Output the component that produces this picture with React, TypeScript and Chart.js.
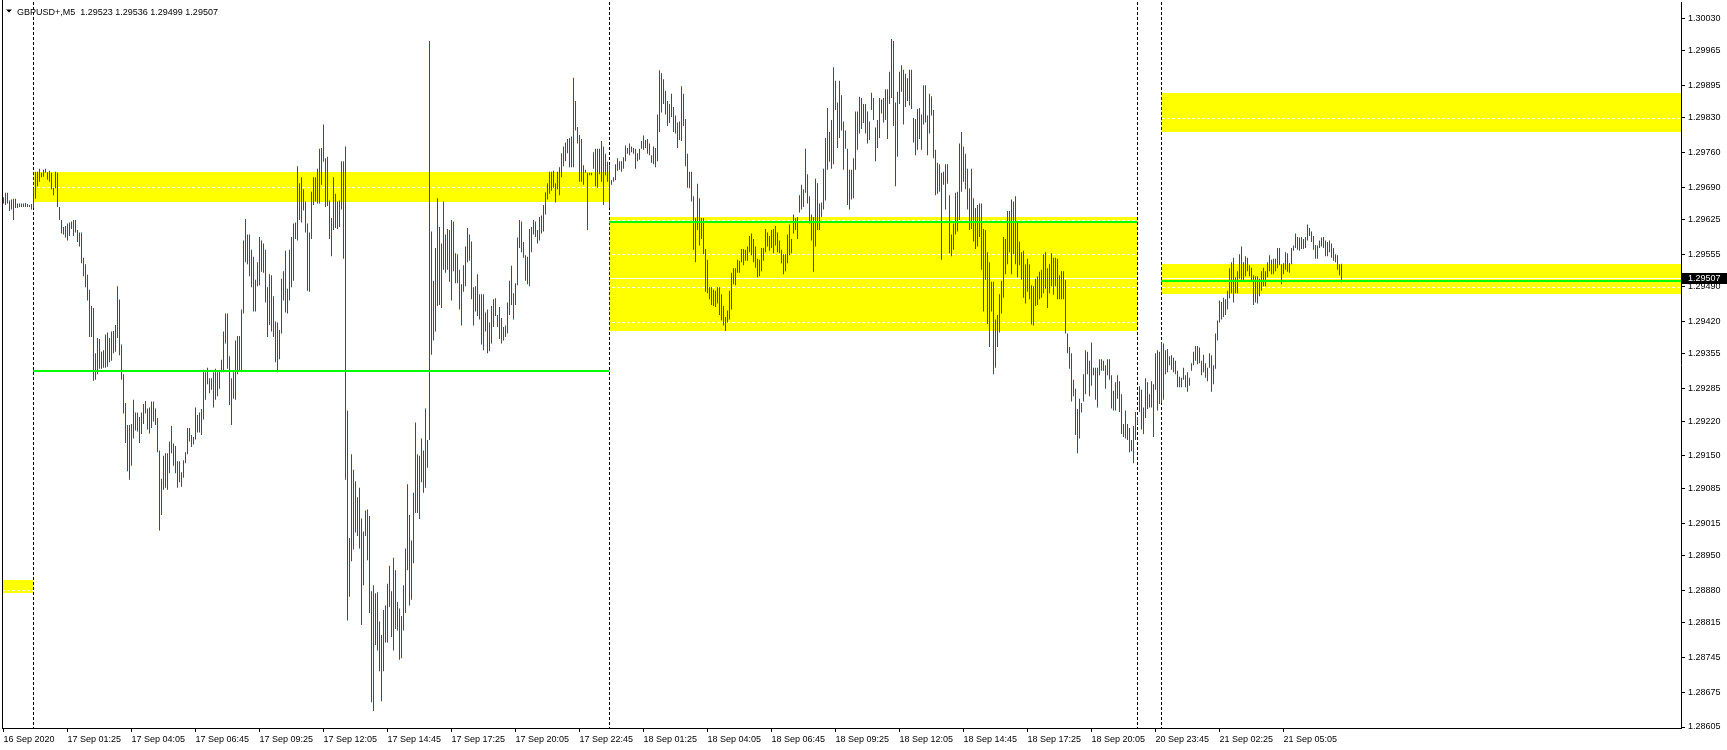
import React, { useEffect, useRef } from "react";
import { Chart, registerables } from "chart.js";

Chart.register(...registerables);

const symbolTitle = "GBPUSD+,M5  1.29523 1.29536 1.29499 1.29507";

// 16 Sep 22:45 .. 23:55
const hi16 = [1.29670,1.29679,1.29679,1.29663,1.29665,1.29667,1.29667,1.29657,1.29657,1.29657,1.29657,1.29658,1.29656,1.29654,1.29656];
const lo16 = [1.29657,1.29654,1.29657,1.29642,1.29645,1.29624,1.29648,1.29648,1.29650,1.29650,1.29650,1.29650,1.29650,1.29650,1.29645];

// 17 Sep
const hi17 = [
1.29688,1.29721,1.29721,1.29727,1.29719,1.29725,1.29727,1.29720,1.29723,1.29719,
1.29689,1.29721,1.29719,1.29650,1.29624,1.29610,1.29612,1.29617,1.29619,1.29621,
1.29624,1.29624,1.29604,1.29599,1.29599,1.29548,1.29535,1.29514,1.29484,1.29451,
1.29447,1.29356,1.29387,1.29385,1.29359,1.29362,1.29394,1.29398,1.29387,1.29400,
1.29401,1.29413,1.29491,1.29464,1.29374,1.29314,1.29256,1.29212,1.29212,1.29214,
1.29263,1.29237,1.29237,1.29228,1.29237,1.29254,1.29260,1.29245,1.29247,1.29259,
1.29259,1.29245,1.29226,1.29161,1.29104,1.29150,1.29155,1.29155,1.29179,1.29210,
1.29175,1.29170,1.29139,1.29139,1.29117,1.29141,1.29157,1.29206,1.29206,1.29192,
1.29188,1.29247,1.29232,1.29237,1.29244,1.29323,1.29318,1.29327,1.29306,1.29306,
1.29318,1.29325,1.29318,1.29321,1.29343,1.29400,1.29436,1.29436,1.29350,1.29306,
1.29318,1.29382,1.29391,1.29391,1.29444,1.29583,1.29626,1.29595,1.29595,1.29564,
1.29550,1.29504,1.29539,1.29590,1.29583,1.29577,1.29564,1.29489,1.29515,1.29513,
1.29471,1.29420,1.29418,1.29403,1.29506,1.29521,1.29562,1.29486,1.29564,1.29590,
1.29617,1.29619,1.29732,1.29698,1.29710,1.29686,1.29661,1.29617,1.29599,1.29681,
1.29710,1.29710,1.29727,1.29767,1.29769,1.29816,1.29748,1.29751,1.29663,1.29628,
1.29710,1.29677,1.29661,1.29663,1.29742,1.29742,1.29772,1.29241,1.28985,1.29153,
1.29122,1.29099,1.29067,1.29086,1.29024,1.28998,1.29040,1.29042,1.29029,1.28878,
1.28890,1.28874,1.28876,1.28817,1.28790,1.28840,1.28849,1.28893,1.28929,1.28878,
1.28945,1.28920,1.28856,1.28843,1.28828,1.28890,1.28964,1.29093,1.29031,1.28980,
1.29076,1.29217,1.29153,1.29150,1.29185,1.29161,1.29245,1.29182,1.29984,1.29601,
1.29502,1.29568,1.29668,1.29610,1.29577,1.29661,1.29595,1.29606,1.29604,1.29624,
1.29621,1.29557,1.29555,1.29524,1.29495,1.29533,1.29571,1.29608,1.29595,1.29581,
1.29489,1.29491,1.29515,1.29475,1.29475,1.29475,1.29438,1.29444,1.29418,1.29451,
1.29465,1.29467,1.29433,1.29449,1.29427,1.29409,1.29412,1.29458,1.29502,1.29532,
1.29477,1.29497,1.29589,1.29624,1.29621,1.29580,1.29553,1.29550,1.29606,1.29610,
1.29624,1.29621,1.29604,1.29630,1.29633,1.29654,1.29680,1.29698,1.29721,1.29721,
1.29723,1.29698,1.29721,1.29730,1.29758,1.29772,1.29780,1.29787,1.29789,1.29792,
1.29910,1.29863,1.29811,1.29795,1.29787,1.29734,1.29725,1.29719,1.29719,1.29719,
1.29760,1.29767,1.29767,1.29767,1.29783,1.29772,1.29757,1.29741];
const lo17 = [
1.29648,1.29667,1.29692,1.29701,1.29710,1.29711,1.29719,1.29705,1.29701,1.29686,
1.29674,1.29688,1.29650,1.29624,1.29597,1.29595,1.29589,1.29583,1.29592,1.29606,
1.29592,1.29599,1.29580,1.29571,1.29537,1.29511,1.29489,1.29462,1.29389,1.29389,
1.29301,1.29303,1.29314,1.29325,1.29325,1.29327,1.29327,1.29329,1.29338,1.29341,
1.29356,1.29359,1.29387,1.29352,1.29303,1.29235,1.29176,1.29119,1.29102,1.29130,
1.29185,1.29201,1.29199,1.29176,1.29194,1.29214,1.29235,1.29203,1.29195,1.29206,
1.29219,1.29212,1.29157,1.29000,1.29031,1.29082,1.29086,1.29082,1.29115,1.29155,
1.29130,1.29115,1.29086,1.29097,1.29088,1.29106,1.29135,1.29153,1.29179,1.29168,
1.29173,1.29183,1.29197,1.29197,1.29192,1.29223,1.29263,1.29294,1.29276,1.29283,
1.29247,1.29263,1.29270,1.29285,1.29318,1.29318,1.29376,1.29325,1.29252,1.29212,
1.29265,1.29263,1.29314,1.29321,1.29321,1.29436,1.29539,1.29535,1.29511,1.29489,
1.29440,1.29440,1.29491,1.29493,1.29520,1.29518,1.29458,1.29389,1.29413,1.29400,
1.29389,1.29338,1.29318,1.29344,1.29396,1.29462,1.29438,1.29436,1.29462,1.29489,
1.29502,1.29586,1.29583,1.29624,1.29619,1.29643,1.29599,1.29482,1.29480,1.29586,
1.29654,1.29661,1.29657,1.29657,1.29695,1.29741,1.29650,1.29652,1.29586,1.29551,
1.29604,1.29608,1.29606,1.29610,1.29645,1.29546,1.29102,1.28819,1.28867,1.28938,
1.28962,1.28996,1.28989,1.28964,1.28810,1.28890,1.28989,1.28940,1.28834,1.28655,
1.28637,1.28770,1.28759,1.28717,1.28657,1.28717,1.28775,1.28775,1.28846,1.28786,
1.28759,1.28802,1.28799,1.28740,1.28743,1.28799,1.28834,1.28920,1.28849,1.28861,
1.28934,1.29035,1.29035,1.29023,1.29097,1.29076,1.29086,1.29126,1.29182,1.29353,
1.29382,1.29400,1.29451,1.29453,1.29447,1.29524,1.29518,1.29524,1.29500,1.29462,
1.29521,1.29497,1.29497,1.29444,1.29412,1.29480,1.29491,1.29539,1.29542,1.29465,
1.29412,1.29440,1.29431,1.29424,1.29374,1.29362,1.29400,1.29356,1.29360,1.29376,
1.29409,1.29431,1.29409,1.29385,1.29376,1.29382,1.29389,1.29396,1.29433,1.29453,
1.29424,1.29453,1.29493,1.29568,1.29559,1.29548,1.29502,1.29495,1.29491,1.29559,
1.29595,1.29590,1.29577,1.29583,1.29597,1.29601,1.29635,1.29665,1.29677,1.29683,
1.29689,1.29659,1.29686,1.29674,1.29710,1.29732,1.29742,1.29758,1.29730,1.29730,
1.29730,1.29804,1.29778,1.29701,1.29701,1.29695,1.29719,1.29604,1.29714,1.29714,
1.29727,1.29692,1.29689,1.29716,1.29701,1.29654,1.29714,1.29701];

// 18 Sep
const hi18 = [
1.29734,1.29704,1.29710,1.29736,1.29748,1.29742,1.29742,1.29750,1.29774,1.29769,
1.29778,1.29772,1.29769,1.29767,1.29758,1.29767,1.29783,1.29794,1.29785,1.29787,
1.29778,1.29754,1.29772,1.29769,1.29836,1.29925,1.29919,1.29907,1.29884,1.29863,
1.29857,1.29878,1.29851,1.29834,1.29820,1.29822,1.29893,1.29878,1.29827,1.29757,
1.29721,1.29721,1.29672,1.29628,1.29697,1.29668,1.29628,1.29628,1.29566,1.29544,
1.29489,1.29489,1.29484,1.29482,1.29489,1.29489,1.29475,1.29451,1.29429,1.29442,
1.29482,1.29518,1.29527,1.29527,1.29544,1.29542,1.29566,1.29566,1.29564,1.29571,
1.29592,1.29597,1.29586,1.29571,1.29546,1.29544,1.29568,1.29568,1.29606,1.29599,
1.29592,1.29604,1.29606,1.29612,1.29599,1.29583,1.29564,1.29555,1.29555,1.29595,
1.29615,1.29586,1.29635,1.29628,1.29630,1.29674,1.29695,1.29686,1.29767,1.29716,
1.29672,1.29635,1.29630,1.29707,1.29698,1.29657,1.29659,1.29727,1.29789,1.29849,
1.29801,1.29825,1.29931,1.29904,1.29860,1.29904,1.29875,1.29822,1.29804,1.29767,
1.29725,1.29725,1.29748,1.29842,1.29842,1.29872,1.29869,1.29857,1.29857,1.29842,
1.29822,1.29880,1.29869,1.29810,1.29825,1.29869,1.29866,1.29869,1.29887,1.29887,
1.29922,1.29988,1.29984,1.29860,1.29882,1.29922,1.29935,1.29926,1.29918,1.29909,
1.29926,1.29926,1.29829,1.29827,1.29847,1.29849,1.29836,1.29895,1.29895,1.29834,
1.29878,1.29873,1.29845,1.29765,1.29739,1.29736,1.29719,1.29721,1.29736,1.29736,
1.29674,1.29595,1.29617,1.29679,1.29681,1.29778,1.29801,1.29772,1.29757,1.29727,
1.29688,1.29727,1.29668,1.29648,1.29654,1.29657,1.29657,1.29606,1.29604,1.29559,
1.29539,1.29500,1.29500,1.29424,1.29433,1.29475,1.29502,1.29590,1.29586,1.29642,
1.29642,1.29665,1.29661,1.29672,1.29619,1.29581,1.29559,1.29562,1.29535,1.29546,
1.29535,1.29493,1.29491,1.29506,1.29511,1.29520,1.29524,1.29555,1.29559,1.29527,
1.29535,1.29557,1.29548,1.29548,1.29546,1.29513,1.29521,1.29521,1.29504,1.29396,
1.29369,1.29356,1.29303,1.29285,1.29244,1.29265,1.29256,1.29314,1.29362,1.29359,
1.29341,1.29378,1.29327,1.29327,1.29327,1.29344,1.29344,1.29341,1.29332,1.29344,
1.29344,1.29312,1.29281,1.29298,1.29312,1.29300,1.29274,1.29214,1.29241,1.29214,
1.29206,1.29182,1.29210,1.29238];
const lo18 = [
1.29648,1.29695,1.29701,1.29704,1.29723,1.29725,1.29721,1.29727,1.29742,1.29757,
1.29754,1.29760,1.29757,1.29727,1.29742,1.29745,1.29767,1.29765,1.29769,1.29757,
1.29754,1.29739,1.29736,1.29730,1.29742,1.29801,1.29840,1.29857,1.29836,1.29813,
1.29819,1.29831,1.29801,1.29798,1.29769,1.29785,1.29783,1.29813,1.29732,1.29689,
1.29688,1.29661,1.29564,1.29539,1.29604,1.29573,1.29586,1.29555,1.29480,1.29477,
1.29465,1.29453,1.29451,1.29449,1.29456,1.29433,1.29422,1.29412,1.29401,1.29418,
1.29424,1.29444,1.29495,1.29493,1.29518,1.29518,1.29539,1.29533,1.29542,1.29542,
1.29559,1.29553,1.29539,1.29528,1.29509,1.29511,1.29521,1.29542,1.29559,1.29571,
1.29562,1.29568,1.29557,1.29573,1.29559,1.29557,1.29537,1.29515,1.29521,1.29537,
1.29553,1.29557,1.29597,1.29604,1.29586,1.29639,1.29645,1.29650,1.29679,1.29657,
1.29617,1.29583,1.29520,1.29571,1.29604,1.29604,1.29630,1.29645,1.29663,1.29725,
1.29741,1.29727,1.29736,1.29845,1.29769,1.29789,1.29804,1.29725,1.29767,1.29654,
1.29645,1.29665,1.29668,1.29725,1.29765,1.29798,1.29807,1.29819,1.29798,1.29778,
1.29785,1.29845,1.29825,1.29742,1.29769,1.29789,1.29838,1.29820,1.29825,1.29787,
1.29857,1.29869,1.29813,1.29692,1.29751,1.29857,1.29882,1.29816,1.29851,1.29863,
1.29854,1.29847,1.29780,1.29754,1.29765,1.29787,1.29765,1.29816,1.29820,1.29754,
1.29798,1.29834,1.29748,1.29674,1.29677,1.29681,1.29544,1.29695,1.29645,1.29697,
1.29557,1.29551,1.29564,1.29595,1.29601,1.29624,1.29681,1.29701,1.29686,1.29645,
1.29604,1.29606,1.29581,1.29566,1.29571,1.29590,1.29524,1.29440,1.29504,1.29415,
1.29369,1.29440,1.29314,1.29327,1.29369,1.29398,1.29436,1.29468,1.29515,1.29535,
1.29559,1.29515,1.29555,1.29535,1.29509,1.29533,1.29504,1.29468,1.29456,1.29480,
1.29465,1.29414,1.29412,1.29451,1.29453,1.29465,1.29468,1.29477,1.29486,1.29447,
1.29477,1.29491,1.29474,1.29491,1.29465,1.29465,1.29465,1.29465,1.29396,1.29356,
1.29325,1.29259,1.29270,1.29192,1.29155,1.29185,1.29237,1.29259,1.29274,1.29314,
1.29270,1.29291,1.29312,1.29263,1.29247,1.29312,1.29321,1.29321,1.29285,1.29312,
1.29303,1.29245,1.29241,1.29241,1.29265,1.29238,1.29194,1.29188,1.29185,1.29182,
1.29157,1.29159,1.29135,1.29182];

// 20 Sep (Sunday open)
const hi20 = [1.29228,1.29290,1.29283,1.29247,1.29306,1.29298,1.29274,1.29300,1.29294,1.29356,1.29362,1.29359];
const lo20 = [1.29214,1.29238,1.29203,1.29194,1.29226,1.29244,1.29247,1.29247,1.29188,1.29283,1.29241,1.29254];

// 21 Sep
const hi21 = [
1.29378,1.29376,1.29362,1.29365,1.29350,1.29352,1.29347,1.29341,1.29321,1.29309,
1.29307,1.29327,1.29312,1.29318,1.29307,1.29336,1.29359,1.29371,1.29371,1.29368,
1.29341,1.29353,1.29336,1.29327,1.29356,1.29352,1.29332,1.29396,1.29422,1.29462,
1.29459,1.29468,1.29465,1.29482,1.29527,1.29539,1.29548,1.29509,1.29521,1.29555,
1.29571,1.29539,1.29551,1.29548,1.29533,1.29528,1.29513,1.29511,1.29511,1.29506,
1.29521,1.29528,1.29521,1.29539,1.29553,1.29544,1.29546,1.29546,1.29568,1.29568,
1.29535,1.29537,1.29559,1.29557,1.29537,1.29568,1.29573,1.29597,1.29590,1.29589,
1.29590,1.29586,1.29590,1.29615,1.29608,1.29601,1.29592,1.29574,1.29573,1.29583,
1.29589,1.29590,1.29583,1.29580,1.29583,1.29577,1.29568,1.29555,1.29553,1.29535,
1.29536];
const lo21 = [
1.29256,1.29263,1.29314,1.29318,1.29332,1.29323,1.29318,1.29314,1.29288,1.29288,
1.29288,1.29303,1.29288,1.29279,1.29291,1.29321,1.29332,1.29341,1.29334,1.29336,
1.29312,1.29318,1.29307,1.29300,1.29327,1.29279,1.29294,1.29325,1.29382,1.29418,
1.29424,1.29429,1.29433,1.29444,1.29467,1.29477,1.29458,1.29477,1.29477,1.29506,
1.29504,1.29502,1.29511,1.29521,1.29511,1.29500,1.29453,1.29458,1.29456,1.29471,
1.29482,1.29491,1.29491,1.29509,1.29521,1.29515,1.29515,1.29521,1.29527,1.29533,
1.29495,1.29515,1.29524,1.29520,1.29518,1.29535,1.29562,1.29568,1.29564,1.29562,
1.29566,1.29566,1.29568,1.29583,1.29592,1.29580,1.29564,1.29546,1.29546,1.29568,
1.29571,1.29568,1.29551,1.29551,1.29559,1.29548,1.29542,1.29539,1.29524,1.29513,
1.29499];

const timeLabels = [
  "16 Sep 2020", "17 Sep 01:25", "17 Sep 04:05", "17 Sep 06:45", "17 Sep 09:25",
  "17 Sep 12:05", "17 Sep 14:45", "17 Sep 17:25", "17 Sep 20:05", "17 Sep 22:45",
  "18 Sep 01:25", "18 Sep 04:05", "18 Sep 06:45", "18 Sep 09:25", "18 Sep 12:05",
  "18 Sep 14:45", "18 Sep 17:25", "18 Sep 20:05", "20 Sep 23:45", "21 Sep 02:25",
  "21 Sep 05:05",
];
const barsPerLabel = 32;

const priceTicks = [
  1.30030, 1.29965, 1.29895, 1.29830, 1.29760, 1.29690, 1.29625, 1.29555, 1.29490, 1.29420, 1.29355,
  1.29285, 1.29220, 1.29150, 1.29085, 1.29015, 1.28950, 1.28880, 1.28815, 1.28745, 1.28675, 1.28605,
];

// day starts (bar index)
const daySeparators = [15, 303, 567, 579];

// zones: bar index range + price range (null = chart edge)
const zoneFrom = [null, 15, 303, 579, 579];
const zoneTo = [15, 303, 567, null, null];
const zoneTop = [1.28900, 1.29720, 1.29630, 1.29879, 1.29536];
const zoneBottom = [1.28874, 1.29661, 1.29401, 1.29800, 1.29475];

// green horizontal levels
const levelFrom = [15, 303, 579];
const levelTo = [303, 567, null];
const levelPrice = [1.29321, 1.29620, 1.29501];

const bidPrice = 1.29507;

const X_MIN = -0.75;
const X_MAX = 838.75;
const Y_MIN = 1.28603;
const Y_MAX = 1.300622;

const FONT = "'Liberation Sans', Arial, sans-serif";
const BAR_RED = "#ee0000";

export default function App() {
  const canvasRef = useRef<HTMLCanvasElement | null>(null);

  useEffect(() => {
    const canvas = canvasRef.current;
    if (!canvas) return;
    const highs = [...hi16, ...hi17, ...hi18, ...hi20, ...hi21];
    const lows = [...lo16, ...lo17, ...lo18, ...lo20, ...lo21];
    const barData = highs.map((h, i) => ({ x: i, y: [lows[i], h] }));

    const overlay = {
      id: "mt4overlay",
      beforeDatasetsDraw(chart: any) {
        const { ctx, chartArea: a, scales } = chart;
        const xs = scales.x;
        const ys = scales.y;
        const px = (i: number) => Math.floor(xs.getPixelForValue(i));
        ctx.save();
        ctx.beginPath();
        ctx.rect(a.left, a.top, a.right - a.left, a.bottom - a.top);
        ctx.clip();
        const rects = zoneTop.map((t, k) => {
          const l = zoneFrom[k] == null ? a.left : px(zoneFrom[k] as number);
          const r = zoneTo[k] == null ? a.right : px(zoneTo[k] as number);
          const tt = Math.round(ys.getPixelForValue(t));
          const bb = Math.round(ys.getPixelForValue(zoneBottom[k]));
          return { l, r, t: tt, b: bb };
        });
        ctx.fillStyle = "#ffff00";
        rects.forEach((r) => ctx.fillRect(r.l, r.t, r.r - r.l, r.b - r.t));
        // white dotted grid (only visible on yellow)
        ctx.strokeStyle = "#ffffff";
        ctx.lineWidth = 1;
        ctx.setLineDash([3, 2]);
        priceTicks.forEach((v) => {
          const yy = Math.round(ys.getPixelForValue(v)) + 0.5;
          ctx.beginPath();
          ctx.moveTo(a.left, yy);
          ctx.lineTo(a.right, yy);
          ctx.stroke();
        });
        // bid line
        ctx.setLineDash([]);
        const by = Math.round(ys.getPixelForValue(bidPrice)) + 0.5;
        ctx.beginPath();
        ctx.moveTo(a.left, by);
        ctx.lineTo(a.right, by);
        ctx.stroke();
        // period separators
        daySeparators.forEach((idx) => {
          const sx = px(idx) + 0.5;
          ctx.setLineDash([3, 2]);
          ctx.strokeStyle = "#000000";
          ctx.beginPath();
          ctx.moveTo(sx, a.top);
          ctx.lineTo(sx, a.bottom);
          ctx.stroke();
          rects.forEach((r) => {
            if (sx >= r.l && sx < r.r) {
              ctx.save();
              ctx.beginPath();
              ctx.rect(r.l, r.t, r.r - r.l, r.b - r.t);
              ctx.clip();
              ctx.strokeStyle = "#0000ff";
              ctx.beginPath();
              ctx.moveTo(sx, a.top);
              ctx.lineTo(sx, a.bottom);
              ctx.stroke();
              ctx.restore();
            }
          });
        });
        ctx.restore();
      },
      afterDatasetsDraw(chart: any) {
        const { ctx, chartArea: a, scales } = chart;
        const xs = scales.x;
        const ys = scales.y;
        ctx.save();
        ctx.fillStyle = "#00ff00";
        levelPrice.forEach((p, k) => {
          const l = Math.floor(xs.getPixelForValue(levelFrom[k]));
          const r = levelTo[k] == null ? a.right : Math.floor(xs.getPixelForValue(levelTo[k] as number));
          const yy = Math.round(ys.getPixelForValue(p));
          ctx.fillRect(l, yy - 1, r - l, 2);
        });
        ctx.restore();
      },
      afterDraw(chart: any) {
        const { ctx, chartArea: a, scales } = chart;
        const ys = scales.y;
        ctx.save();
        // left frame
        ctx.fillStyle = "#000000";
        ctx.fillRect(a.left, 0, 1, a.bottom + 1);
        // title
        ctx.beginPath();
        ctx.moveTo(6, 9.5);
        ctx.lineTo(12, 9.5);
        ctx.lineTo(9, 12.5);
        ctx.closePath();
        ctx.fill();
        ctx.font = `9px ${FONT}`;
        ctx.textBaseline = "alphabetic";
        ctx.textAlign = "left";
        ctx.fillText(symbolTitle, 17, 15);
        // current price label
        const by = Math.round(ys.getPixelForValue(bidPrice));
        ctx.fillRect(a.right + 1, by - 5, 1727 - a.right - 1, 11);
        ctx.fillStyle = "#ffffff";
        ctx.textBaseline = "middle";
        ctx.fillText(bidPrice.toFixed(5), a.right + 7, by + 1);
        ctx.restore();
      },
    };

    const chart = new Chart(canvas, {
      type: "bar",
      data: {
        datasets: [
          {
            data: barData as any,
            backgroundColor: BAR_RED,
            borderWidth: 0,
            barThickness: 1,
            minBarLength: 1,
            inflateAmount: 0,
            borderSkipped: false,
          } as any,
        ],
      },
      options: {
        animation: false,
        responsive: false,
        devicePixelRatio: 1,
        events: [],
        layout: { padding: { left: 2, top: 2, right: 0, bottom: 0 } },
        plugins: {
          legend: { display: false },
          tooltip: { enabled: false },
          title: { display: false },
        },
        scales: {
          x: {
            type: "linear",
            min: X_MIN,
            max: X_MAX,
            offset: false,
            grid: {
              display: true,
              drawOnChartArea: false,
              drawTicks: true,
              tickLength: 4,
              tickColor: "#000000",
              offset: false,
            },
            border: { display: true, color: "#000000", width: 1 },
            ticks: {
              align: "start",
              padding: 2,
              color: "#000000",
              font: { family: FONT, size: 9 },
              maxRotation: 0,
              minRotation: 0,
              autoSkip: false,
              callback: (_v: any, idx: number) => timeLabels[idx] ?? "",
            },
            afterBuildTicks: (s: any) => {
              s.ticks = timeLabels.map((_, k) => ({ value: k * barsPerLabel }));
            },
            afterFit: (s: any) => {
              s.height = 22;
              s.paddingLeft = 0;
              s.paddingRight = 0;
            },
          } as any,
          y: {
            type: "linear",
            position: "right",
            min: Y_MIN,
            max: Y_MAX,
            grid: {
              display: true,
              drawOnChartArea: false,
              drawTicks: true,
              tickLength: 4,
              tickColor: "#000000",
            },
            border: { display: true, color: "#000000", width: 1 },
            ticks: {
              padding: 3,
              color: "#000000",
              font: { family: FONT, size: 9 },
              autoSkip: false,
              callback: (v: any) => Number(v).toFixed(5),
            },
            afterBuildTicks: (s: any) => {
              s.ticks = priceTicks.map((v) => ({ value: v }));
            },
            afterFit: (s: any) => {
              s.width = 46;
              s.paddingTop = 0;
              s.paddingBottom = 0;
            },
          } as any,
        },
      },
      plugins: [overlay],
    });

    return () => {
      chart.destroy();
    };
  }, []);

  return (
    <div
      style={{
        position: "fixed",
        left: 0,
        top: 0,
        width: 1727,
        height: 750,
        background: "#ffffff",
      }}
    >
      <canvas ref={canvasRef} width={1727} height={750} style={{ width: 1727, height: 750, display: "block" }} />
    </div>
  );
}
